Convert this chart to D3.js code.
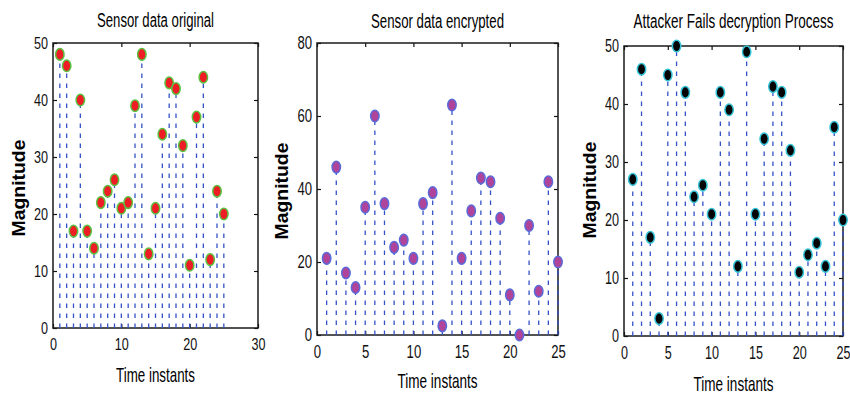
<!DOCTYPE html>
<html>
<head>
<meta charset="utf-8">
<script src="https://cdn.jsdelivr.net/npm/d3@7"></script>
<style>
  body { margin: 0; background: #fff; }
  svg { display: block; }
</style>
</head>
<body>
<div id="main_svg"></div>
<script>
// time instants shared by all three stem plots
var timeInstants = [1, 2, 3, 4, 5, 6, 7, 8, 9, 10, 11, 12, 13, 14, 15, 16, 17, 18, 19, 20, 21, 22, 23, 24, 25];

// magnitudes
var originalValues = [48, 46, 17, 40, 17, 14, 22, 24, 26, 21, 22, 39, 48, 13, 21, 34, 43, 42, 32, 11, 37, 44, 12, 24, 20];
var encryptedValues = [21, 46, 17, 13, 35, 60, 36, 24, 26, 21, 36, 39, 2.5, 63, 21, 34, 43, 42, 32, 11, 0, 30, 12, 42, 20];
var attackerValues = [27, 46, 17, 3, 45, 50, 42, 24, 26, 21, 42, 39, 12, 49, 21, 34, 43, 42, 32, 11, 14, 16, 12, 36, 20];

// titles and axis labels
var panelTitles = ["Sensor data original", "Sensor data encrypted", "Attacker Fails decryption Process"];
var xLabel = "Time instants";
var yLabel = "Magnitude";

// axis domains and ticks
var xDomains = [[0, 30], [0, 25], [0, 25]];
var yDomains = [[0, 50], [0, 80], [0, 50]];
var xTicks = [[0, 10, 20, 30], [0, 5, 10, 15, 20, 25], [0, 5, 10, 15, 20, 25]];
var yTicks = [[0, 10, 20, 30, 40, 50], [0, 20, 40, 60, 80], [0, 10, 20, 30, 40, 50]];

var FONT = "'Liberation Sans', Arial, sans-serif";

var svg = d3.select("#main_svg").append("svg")
    .attr("width", 850)
    .attr("height", 394);

// layout of each panel (pixel box of the axes) and how it looks
var panels = [
    {values: originalValues, box: {left: 53, right: 258, top: 43, bottom: 328},
     fill: "#ee1c24", edge: "#5cc040", tickFont: 17, digitW: 7,
     titleW: 117, titleY: 27, xLabelY: 382, xLabelW: 79, yLabelX: 25, yLabelY: 188},
    {values: encryptedValues, box: {left: 317, right: 558, top: 43, bottom: 335},
     fill: "#b0449a", edge: "#5a6ad8", tickFont: 18, digitW: 7.3,
     titleW: 133, titleY: 28, xLabelY: 388, xLabelW: 80, yLabelX: 288, yLabelY: 191},
    {values: attackerValues, box: {left: 624, right: 843, top: 46, bottom: 336},
     fill: "#050505", edge: "#38c4d8", tickFont: 18, digitW: 7,
     titleW: 200, titleY: 28, xLabelY: 391, xLabelW: 80, yLabelX: 596, yLabelY: 190}
];

panels.forEach(function (p, i) {
    var b = p.box;
    var w = b.right - b.left,
        h = b.bottom - b.top;

    var x = d3.scaleLinear().domain(xDomains[i]).range([0, w]);
    var y = d3.scaleLinear().domain(yDomains[i]).range([h, 0]);

    var g = svg.append("g")
        .attr("transform", "translate(" + b.left + "," + b.top + ")");

    // axes, ticks pointing inward like matlab
    var fmt = d3.format("d");
    var gx = g.append("g")
        .attr("transform", "translate(0," + h + ")")
        .call(d3.axisBottom(x).tickValues(xTicks[i]).tickFormat(fmt).tickSizeInner(-4).tickSizeOuter(0).tickPadding(10));
    var gy = g.append("g")
        .call(d3.axisLeft(y).tickValues(yTicks[i]).tickFormat(fmt).tickSizeInner(-4).tickSizeOuter(0).tickPadding(5));
    g.append("g")
        .call(d3.axisTop(x).tickValues(xTicks[i]).tickFormat("").tickSizeInner(-4).tickSizeOuter(0));
    g.append("g")
        .attr("transform", "translate(" + w + ",0)")
        .call(d3.axisRight(y).tickValues(yTicks[i]).tickFormat("").tickSizeInner(-4).tickSizeOuter(0));

    g.selectAll(".domain").remove();
    g.selectAll(".tick line").attr("stroke", "#111").attr("stroke-width", 1.2);

    [gx, gy].forEach(function (ax) {
        ax.attr("font-family", FONT).attr("font-size", p.tickFont);
        ax.selectAll("text")
            .attr("fill", "#111")
            .attr("textLength", function (d) { return p.digitW * String(d).length; })
            .attr("lengthAdjust", "spacingAndGlyphs");
    });

    // box around the plot
    g.append("rect")
        .attr("width", w)
        .attr("height", h)
        .attr("fill", "none")
        .attr("stroke", "#1a1a1a")
        .attr("stroke-width", 1.5);

    // dashed stems
    g.selectAll(".stem")
        .data(p.values)
        .enter().append("line")
        .attr("class", "stem")
        .attr("x1", function (d, j) { return x(timeInstants[j]); })
        .attr("x2", function (d, j) { return x(timeInstants[j]); })
        .attr("y1", y(0))
        .attr("y2", function (d) { return y(d); })
        .attr("stroke", "#3452c6")
        .attr("stroke-width", 1.3)
        .attr("stroke-dasharray", "4.5,5.5");

    // markers
    g.selectAll(".dot")
        .data(p.values)
        .enter().append("ellipse")
        .attr("class", "dot")
        .attr("cx", function (d, j) { return x(timeInstants[j]); })
        .attr("cy", function (d) { return y(d); })
        .attr("rx", 4.2)
        .attr("ry", 5.8)
        .attr("fill", p.fill)
        .attr("stroke", p.edge)
        .attr("stroke-width", 1.5);

    // title
    svg.append("text")
        .attr("x", b.left + w / 2)
        .attr("y", p.titleY)
        .attr("text-anchor", "middle")
        .attr("font-family", FONT)
        .attr("font-size", 20)
        .attr("textLength", p.titleW)
        .attr("lengthAdjust", "spacingAndGlyphs")
        .text(panelTitles[i]);

    // x label
    svg.append("text")
        .attr("x", b.left + w / 2)
        .attr("y", p.xLabelY)
        .attr("text-anchor", "middle")
        .attr("font-family", FONT)
        .attr("font-size", 21)
        .attr("textLength", p.xLabelW)
        .attr("lengthAdjust", "spacingAndGlyphs")
        .text(xLabel);

    // y label
    svg.append("text")
        .attr("transform", "translate(" + p.yLabelX + "," + p.yLabelY + ") rotate(-90)")
        .attr("text-anchor", "middle")
        .attr("font-family", FONT)
        .attr("font-weight", "bold")
        .attr("font-size", 18)
        .attr("textLength", 97)
        .attr("lengthAdjust", "spacingAndGlyphs")
        .text(yLabel);
});
</script>
</body>
</html>
